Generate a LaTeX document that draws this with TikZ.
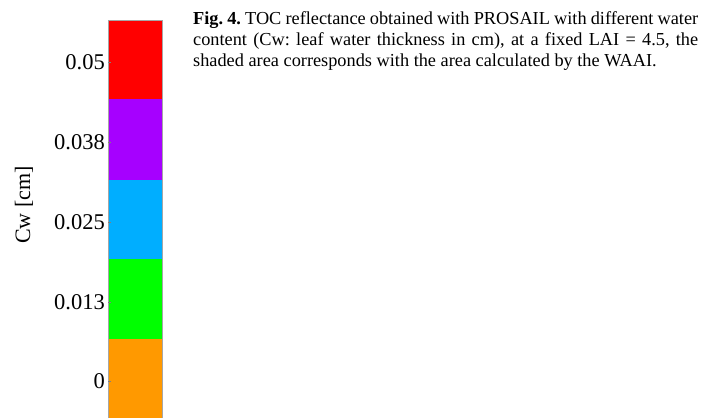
\documentclass[tikz,border=0pt]{standalone}
\usepackage{fontspec}
\setmainfont{Liberation Serif}
\definecolor{cbred}{HTML}{FF0000}
\definecolor{cbpurple}{HTML}{A600FF}
\definecolor{cbblue}{HTML}{00AEFF}
\definecolor{cbgreen}{HTML}{00FF00}
\definecolor{cborange}{HTML}{FF9900}
\begin{document}
\begin{tikzpicture}[x=1pt,y=-1pt,
  ticklbl/.style={anchor=east,inner sep=0pt,font=\fontsize{22.5}{22.5}\selectfont},
  tickmark/.style={draw=gray,line width=0.6pt}]
\useasboundingbox (0,0) rectangle (719,418);
\fill[white] (0,0) rectangle (719,418);
\fill[cbred] (108,20) rectangle (162,99);
\fill[cbpurple] (108,99) rectangle (162,180);
\fill[cbblue] (108,180) rectangle (162,259);
\fill[cbgreen] (108,259) rectangle (162,339);
\fill[cborange] (108,339) rectangle (162,418);
\draw[gray!70,line width=0.6pt] (108,418) -- (108,20) -- (162,20) -- (162,418);
\foreach \yy in {62,142,222,302,381} \draw[tickmark] (108,\yy) -- (111,\yy);
\node[ticklbl] (t1) at (105,62) {0.05};
\node[ticklbl] (t2) at (105,142) {0.038};
\node[ticklbl] (t3) at (105,222) {0.025};
\node[ticklbl] (t4) at (105,302) {0.013};
\node[ticklbl] (t5) at (105,381) {0};
\node[rotate=90,inner sep=0pt,font=\fontsize{22}{22}\selectfont] (lbl) at (24,205) {Cw [cm]};
\node[anchor=north west,inner sep=0pt,text width=505pt,align=justify,
  font=\fontsize{18.3}{21}\selectfont\frenchspacing] (cap) at (193,11)
  {\textbf{Fig. 4.} TOC reflectance obtained with PROSAIL with different water\linebreak content (Cw: leaf water thickness in cm), at a fixed LAI = 4.5, the\linebreak shaded area corresponds with the area calculated by the WAAI.};
\end{tikzpicture}
\end{document}
